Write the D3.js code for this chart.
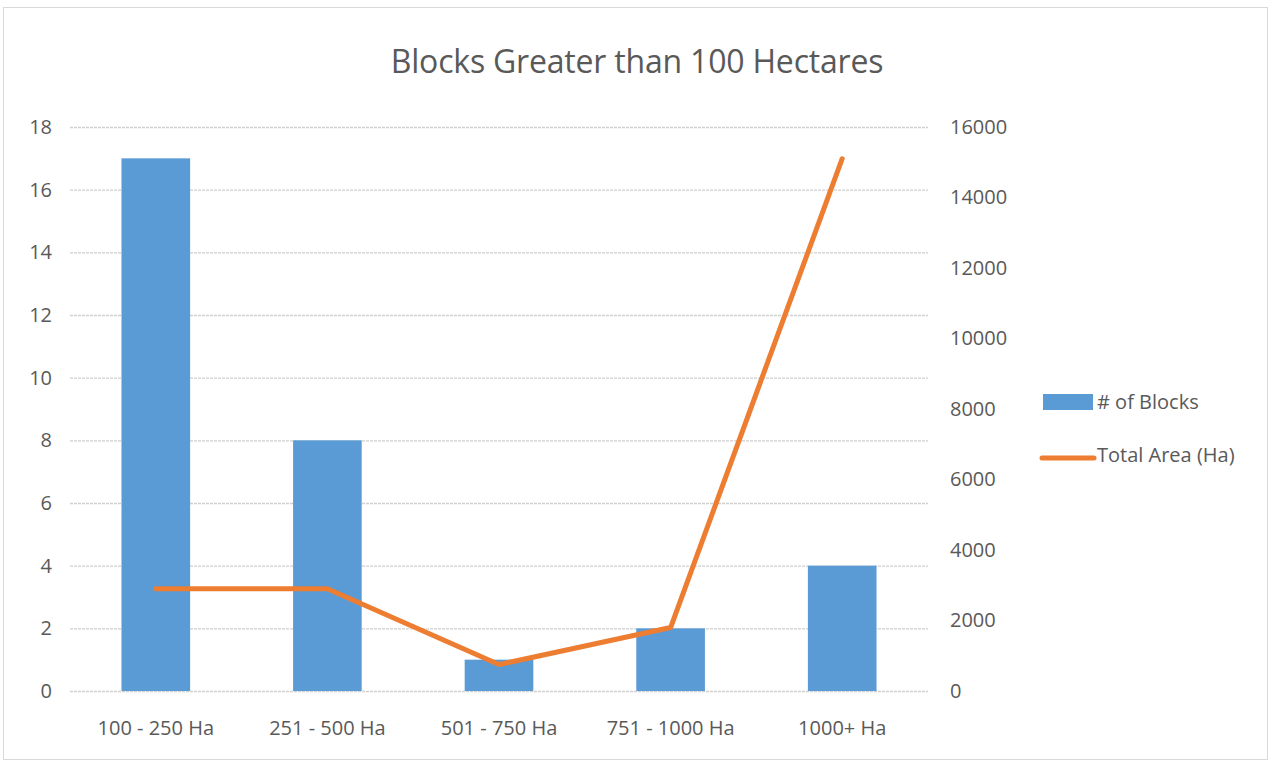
<!DOCTYPE html>
<html>
<head>
<meta charset="utf-8">
<script src="https://cdn.jsdelivr.net/npm/d3@7"></script>
<style>
  body { margin: 0; background: #fff; }
  text { font-family: "Liberation Sans Narrow", "Open Sans", sans-serif; fill: #595959; }
</style>
</head>
<body>
<div id="chart"></div>
<script>
let categories = ["100 - 250 Ha", "251 - 500 Ha", "501 - 750 Ha", "751 - 1000 Ha", "1000+ Ha"];
let blocks     = [17, 8, 1, 2, 4];
let totalArea  = [2900, 2900, 750, 1800, 15100];
let leftTicks  = [0, 2, 4, 6, 8, 10, 12, 14, 16, 18];
let rightTicks = [0, 2000, 4000, 6000, 8000, 10000, 12000, 14000, 16000];

let width = 1271, height = 763;
let margin = { top: 127, right: 343, bottom: 72, left: 70 };
let innerW = width - margin.left - margin.right,
    innerH = height - margin.top - margin.bottom;

let svg = d3.select("#chart").append("svg")
    .attr("width", width)
    .attr("height", height);

svg.append("rect")
    .attr("x", 3.5).attr("y", 7.5)
    .attr("width", 1264).attr("height", 752)
    .attr("fill", "#fff")
    .attr("stroke", "#d9d9d9");

svg.append("text")
    .attr("x", 637).attr("y", 73)
    .attr("text-anchor", "middle")
    .attr("font-size", 32)
    .attr("letter-spacing", -0.2)
    .text("Blocks Greater than 100 Hectares");

let g = svg.append("g").attr("transform", translate(margin.left, margin.top));

let x = d3.scaleBand().domain(categories).range([0, innerW]).paddingInner(0.6).paddingOuter(0.3);
let xc = d3.scaleBand().domain(categories).range([0, innerW]);
let yL = d3.scaleLinear().domain([0, 18]).range([innerH, 0]);
let yR = d3.scaleLinear().domain([0, 16000]).range([innerH, 0]);

// gridlines
g.append("g")
    .call(d3.axisLeft(yL).tickValues(leftTicks).tickSize(-innerW).tickFormat(""))
    .call(s => s.select(".domain").remove())
    .call(s => s.selectAll("line").attr("stroke", "#d0d0d0").attr("stroke-width", 1.3).attr("stroke-dasharray", "3,1"));

// left axis labels
g.append("g")
    .call(d3.axisLeft(yL).tickValues(leftTicks).tickSize(0).tickPadding(18))
    .call(s => s.select(".domain").remove())
    .call(s => s.selectAll("text").attr("font-size", 20).style("fill", "#595959"));

// right axis labels
g.append("g")
    .attr("transform", translate(innerW, 0))
    .call(d3.axisRight(yR).tickValues(rightTicks).tickFormat(d3.format("d")).tickSize(0).tickPadding(22))
    .call(s => s.select(".domain").remove())
    .call(s => s.selectAll("text").attr("font-size", 20).style("fill", "#595959"));

// x axis labels
g.append("g")
    .attr("transform", translate(0, innerH))
    .call(d3.axisBottom(xc).tickSize(0).tickPadding(30))
    .call(s => s.select(".domain").remove())
    .call(s => s.selectAll("text").attr("font-size", 20).style("fill", "#595959"));

// bars
g.selectAll(".bar")
    .data(blocks)
    .enter().append("rect")
      .attr("class", "bar")
      .attr("x", (d, i) => x(categories[i]))
      .attr("y", d => yL(d))
      .attr("width", x.bandwidth())
      .attr("height", d => innerH - yL(d))
      .attr("fill", "#5b9bd5");

// line
let line = d3.line()
    .x((d, i) => xc(categories[i]) + xc.bandwidth() / 2)
    .y(d => yR(d));

g.append("path")
    .datum(totalArea)
    .attr("d", line)
    .attr("fill", "none")
    .attr("stroke", "#ed7d31")
    .attr("stroke-width", 5)
    .attr("stroke-linejoin", "round")
    .attr("stroke-linecap", "round");

// legend
let legend = svg.append("g").attr("transform", translate(1040, 402));
legend.append("rect")
    .attr("x", 3).attr("y", -8)
    .attr("width", 50).attr("height", 16)
    .attr("fill", "#5b9bd5");
legend.append("text")
    .attr("x", 57).attr("y", 7)
    .attr("font-size", 20)
    .text("# of Blocks");
legend.append("line")
    .attr("x1", 2).attr("x2", 54)
    .attr("y1", 56).attr("y2", 56)
    .attr("stroke", "#ed7d31")
    .attr("stroke-width", 5)
    .attr("stroke-linecap", "round");
legend.append("text")
    .attr("x", 57).attr("y", 60)
    .attr("font-size", 20)
    .text("Total Area (Ha)");

function translate(x, y = 0) {
  return "translate(" + x + "," + y + ")";
}
</script>
</body>
</html>
